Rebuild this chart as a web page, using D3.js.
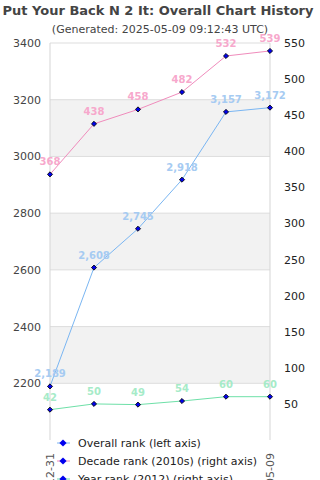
<!DOCTYPE html>
<html><head><meta charset="utf-8">
<script src="https://cdn.jsdelivr.net/npm/d3@7"></script>
<style>html,body{margin:0;padding:0;background:#fff;overflow:hidden}svg{display:block;font-family:"DejaVu Sans",sans-serif}</style>
</head><body><svg id="c" width="320" height="480"></svg>
<script>
const dates = ["2012-12-31","p2","p3","p4","p5","2025-05-09"];
const xTickLabels = ["2012-12-31","","","","","2025-05-09"];
const overallRank = [2189, 2608, 2745, 2918, 3157, 3172];
const decadeRank = [368, 438, 458, 482, 532, 539];
const yearRank = [42, 50, 49, 54, 60, 60];
const leftTicks = [2200, 2400, 2600, 2800, 3000, 3200, 3400];
const rightTicks = [50,100,150,200,250,300,350,400,450,500,550];
const legendLabels = ["Overall rank (left axis)","Decade rank (2010s) (right axis)","Year rank (2012) (right axis)"];

const svg = d3.select("#c");
const L=50, R=270, T=43, B=440;
const x = d3.scalePoint().domain(dates).range([L,R]);
const yL = d3.scaleLinear().domain([2000,3400]).range([B,T]);
const yR = d3.scaleLinear().domain([0,550]).range([B,T]);

// bands
const bands=[[3000,3200],[2600,2800],[2200,2400]];
svg.selectAll("rect.band").data(bands).enter().append("rect")
  .attr("x",L).attr("width",R-L).attr("y",d=>yL(d[1])).attr("height",d=>yL(d[0])-yL(d[1]))
  .attr("fill","#f2f2f2");
// gridlines
svg.selectAll("line.g").data(leftTicks).enter().append("line")
  .attr("x1",L).attr("x2",R).attr("y1",d=>yL(d)).attr("y2",d=>yL(d))
  .attr("stroke","#dddddd").attr("stroke-width",1);
// vertical borders
[L,R].forEach(v=>svg.append("line").attr("x1",v).attr("x2",v).attr("y1",T).attr("y2",B).attr("stroke","#d5d5d5"));

// left axis labels
svg.selectAll("text.yl").data(leftTicks).enter().append("text")
  .attr("x",41).attr("y",d=>yL(d)+4).attr("text-anchor","end")
  .attr("font-size",11).attr("fill","#444").text(d=>d);
svg.selectAll("text.yr").data(rightTicks).enter().append("text")
  .attr("x",284).attr("y",d=>yR(d)+4).attr("text-anchor","start")
  .attr("font-size",11).attr("fill","#222").text(d=>d);

// x labels
svg.selectAll("text.xl").data(dates).enter().append("text")
  .attr("transform",d=>`translate(${x(d)+4},453) rotate(-90)`)
  .attr("text-anchor","end").attr("font-size",11).attr("fill","#555")
  .text((d,i)=>xTickLabels[i]);

const series=[
 {vals:overallRank, y:yL, line:"#7ab6f2", lab:"#a6cbf2", fmt:d3.format(",")},
 {vals:decadeRank, y:yR, line:"#f08cbc", lab:"#f7a8cc", fmt:d3.format("d")},
 {vals:yearRank, y:yR, line:"#6ee0a8", lab:"#a6ebc8", fmt:d3.format("d")}
];
const sym = d3.symbol().type(d3.symbolSquare).size(13);
series.forEach(s=>{
  const ln = d3.line().x((d,i)=>x(dates[i])).y(d=>s.y(d));
  svg.append("path").attr("d",ln(s.vals)).attr("fill","none").attr("stroke",s.line).attr("stroke-width",1);
  svg.selectAll(null).data(s.vals).enter().append("text")
    .attr("x",(d,i)=>x(dates[i])).attr("y",d=>s.y(d)-9).attr("text-anchor","middle")
    .attr("font-size",10).attr("font-weight","bold").attr("fill",s.lab).text(d=>s.fmt(d));
  svg.selectAll(null).data(s.vals).enter().append("path")
    .attr("d",sym).attr("transform",(d,i)=>`translate(${x(dates[i])},${s.y(d)}) rotate(45)`)
    .attr("fill","#0000ee").attr("stroke","#000").attr("stroke-width",0.8);
});

// legend
legendLabels.forEach((t,i)=>{
  const yy=443+i*18;
  svg.append("line").attr("x1",57).attr("x2",70).attr("y1",yy).attr("y2",yy).attr("stroke",series[i].line).attr("stroke-width",1);
  svg.append("path").attr("d",d3.symbol().type(d3.symbolSquare).size(26)).attr("transform",`translate(63,${yy}) rotate(45)`).attr("fill","#0000ee");
  svg.append("text").attr("x",78).attr("y",yy+4).attr("font-size",11).attr("fill","#222").text(t);
});

// titles
svg.append("text").attr("x",158).attr("y",15).attr("text-anchor","middle").attr("font-size",13).attr("font-weight","bold").attr("fill","#444").text("Put Your Back N 2 It: Overall Chart History");
svg.append("text").attr("x",160).attr("y",33).attr("text-anchor","middle").attr("font-size",11).attr("fill","#444").text("(Generated: 2025-05-09 09:12:43 UTC)");
</script></body></html>
